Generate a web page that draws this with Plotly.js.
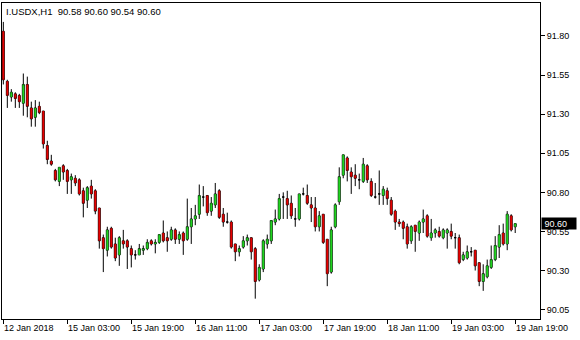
<!DOCTYPE html>
<html><head><meta charset="utf-8">
<script src="https://cdn.plot.ly/plotly-3.0.1.min.js"></script>
<style>html,body{margin:0;padding:0;background:#fff;}#chart{width:580px;height:340px;}</style>
</head><body><div id="chart"></div>
<script>
const symbol = "I.USDX,H1";
const openP = [91.83,91.51,91.41,91.43,91.42,91.37,91.49,91.34,91.28,91.35,
91.32,91.10,91.00,90.94,90.87,90.97,90.94,90.88,90.89,90.88,
90.81,90.75,90.84,90.81,90.70,90.51,90.43,90.57,90.47,90.40,
90.49,90.49,90.44,90.40,90.40,90.43,90.44,90.49,90.47,90.48,
90.54,90.51,90.50,90.56,90.50,90.54,90.50,90.58,90.63,90.66,
90.77,90.78,90.68,90.72,90.81,90.66,90.61,90.61,90.47,90.42,
90.45,90.49,90.51,90.44,90.24,90.31,90.47,90.49,90.61,90.63,
90.77,90.76,90.73,90.63,90.63,90.79,90.78,90.72,90.70,90.58,
90.66,90.50,90.29,90.58,90.74,90.91,91.02,90.93,90.91,90.88,
90.87,90.97,90.87,90.77,90.79,90.78,90.81,90.75,90.68,90.61,
90.61,90.58,90.49,90.59,90.54,90.61,90.65,90.51,90.54,90.55,
90.51,90.54,90.55,90.51,90.51,90.37,90.38,90.42,90.43,90.35,
90.23,90.26,90.32,90.37,90.45,90.54,90.47,90.65,90.58];
const highP = [91.89,91.52,91.46,91.44,91.43,91.56,91.54,91.38,91.39,91.38,
91.32,91.13,91.04,90.95,90.96,90.98,90.95,90.92,90.91,90.89,
90.83,90.84,90.88,90.82,90.70,90.53,90.58,90.58,90.51,90.52,
90.56,90.50,90.46,90.43,90.47,90.46,90.50,90.50,90.50,90.53,
90.62,90.55,90.58,90.57,90.55,90.55,90.76,90.70,90.72,90.85,
90.84,90.78,90.77,90.86,90.82,90.70,90.67,90.62,90.47,90.46,
90.52,90.53,90.51,90.45,90.34,90.50,90.53,90.62,90.69,90.79,
90.80,90.81,90.78,90.70,90.79,90.83,90.85,90.77,90.77,90.68,
90.66,90.50,90.58,90.73,90.96,91.04,91.03,90.96,90.98,90.92,
91.02,90.98,90.89,90.86,90.94,90.84,90.83,90.77,90.69,90.63,
90.62,90.60,90.59,90.59,90.62,90.69,90.66,90.63,90.57,90.58,
90.57,90.57,90.60,90.54,90.53,90.42,90.46,90.45,90.43,90.35,
90.34,90.37,90.46,90.52,90.59,90.60,90.68,90.66,90.60];
const lowP = [91.49,91.34,91.38,91.34,91.34,91.29,91.28,91.22,91.22,91.30,
91.08,90.98,90.97,90.87,90.84,90.88,90.79,90.79,90.84,90.78,
90.64,90.70,90.76,90.66,90.44,90.29,90.39,90.44,90.36,90.33,
90.44,90.31,90.32,90.37,90.40,90.40,90.43,90.46,90.41,90.47,
90.48,90.42,90.49,90.47,90.47,90.40,90.49,90.47,90.59,90.63,
90.71,90.65,90.65,90.70,90.63,90.58,90.60,90.44,90.36,90.39,
90.44,90.46,90.37,90.12,90.23,90.29,90.44,90.47,90.59,90.62,
90.63,90.63,90.63,90.58,90.62,90.78,90.72,90.61,90.55,90.55,
90.47,90.20,90.28,90.57,90.72,90.89,90.87,90.79,90.84,90.82,
90.86,90.86,90.77,90.76,90.72,90.72,90.72,90.65,90.56,90.58,
90.50,90.44,90.47,90.42,90.49,90.54,90.51,90.49,90.51,90.51,
90.50,90.44,90.50,90.44,90.34,90.36,90.37,90.39,90.30,90.20,
90.17,90.25,90.31,90.36,90.38,90.46,90.43,90.55,90.54];
const closeP = [91.52,91.42,91.44,91.40,91.38,91.49,91.35,91.27,91.34,91.31,
91.11,91.01,90.98,90.88,90.96,90.93,90.87,90.90,90.86,90.79,
90.73,90.83,90.79,90.68,90.49,90.44,90.56,90.45,90.38,90.51,
90.47,90.45,90.40,90.40,90.44,90.44,90.48,90.47,90.48,90.53,
90.49,90.49,90.56,90.50,90.53,90.49,90.58,90.63,90.65,90.78,
90.77,90.67,90.73,90.79,90.64,90.61,90.61,90.45,90.42,90.44,
90.49,90.51,90.42,90.23,90.32,90.49,90.50,90.62,90.63,90.76,
90.77,90.72,90.65,90.63,90.79,90.79,90.73,90.70,90.58,90.65,
90.48,90.28,90.56,90.72,90.90,91.04,90.94,90.90,90.89,90.88,
90.98,90.88,90.78,90.77,90.79,90.82,90.76,90.66,90.61,90.60,
90.57,90.47,90.58,90.55,90.61,90.63,90.52,90.54,90.56,90.52,
90.56,90.56,90.52,90.51,90.35,90.40,90.42,90.42,90.33,90.23,
90.28,90.33,90.37,90.46,90.53,90.47,90.66,90.56,90.60];
const xTickIdx = [0,16,32,48,64,80,96,112,128];
const xTickText = ["12 Jan 2018","15 Jan 03:00","15 Jan 19:00","16 Jan 11:00","17 Jan 03:00","17 Jan 19:00","18 Jan 11:00","19 Jan 03:00","19 Jan 19:00"];
const yTicks = [90.05,90.30,90.55,90.80,91.05,91.30,91.55,91.80];

const barIndex = openP.map((_, i) => i);
const last = openP.length - 1;
const FONT = "Liberation Sans, Arial, sans-serif";
const UP = "#22DD22", DOWN = "#EE0000";

const outline = {
  type: "candlestick",
  x: barIndex, open: openP, high: highP, low: lowP, close: closeP,
  increasing: {line: {color: "#000", width: 1}, fillcolor: UP},
  decreasing: {line: {color: "#000", width: 1}, fillcolor: DOWN},
  whiskerwidth: 0, hoverinfo: "none"
};
const body = {
  type: "candlestick",
  x: barIndex, open: openP, high: highP, low: lowP, close: closeP,
  increasing: {line: {color: UP, width: 0}, fillcolor: UP},
  decreasing: {line: {color: DOWN, width: 0}, fillcolor: DOWN},
  whiskerwidth: 0, hoverinfo: "none", opacity: 0.85
};

const annotations = xTickIdx.map((t, k) => ({
  x: t, xref: "x", y: 0, yref: "paper", xanchor: "left", yanchor: "top",
  yshift: -3, text: xTickText[k], showarrow: false, borderpad: 0,
  font: {family: FONT, size: 9, color: "#000"}
}));
annotations.push({
  x: 0, xref: "paper", y: 1, yref: "paper", xanchor: "left", yanchor: "top",
  xshift: 3, yshift: -2, showarrow: false, borderpad: 0,
  text: symbol + "\u00a0\u00a0" + [openP[last], highP[last], lowP[last], closeP[last]].map(v => v.toFixed(2)).join(" "),
  font: {family: FONT, size: 9.5, color: "#000"}
});
annotations.push({
  x: 1, xref: "paper", y: closeP[last], yref: "y", xanchor: "left", yanchor: "middle",
  xshift: 1, showarrow: false, borderpad: 0, width: 34, height: 11, align: "left",
  bgcolor: "#000", text: "\u00a0" + closeP[last].toFixed(2),
  font: {family: FONT, size: 9, color: "#fff"}
});

const layout = {
  width: 580, height: 340,
  margin: {l: 2, r: 40, t: 3, b: 21, pad: 0},
  paper_bgcolor: "#fff", plot_bgcolor: "#fff",
  showlegend: false, boxmode: "overlay",
  xaxis: {
    type: "linear", range: [-0.33, 134.2], rangeslider: {visible: false},
    showgrid: false, zeroline: false, showline: true, mirror: true,
    linecolor: "#000", linewidth: 1, ticks: "outside", ticklen: 4, tickcolor: "#000",
    tickvals: xTickIdx, showticklabels: false, fixedrange: true
  },
  yaxis: {
    side: "right", range: [89.990, 92.011],
    showgrid: false, zeroline: false, showline: true, mirror: true,
    linecolor: "#000", linewidth: 1, ticks: "outside", ticklen: 4, tickcolor: "#000",
    tickvals: yTicks, ticktext: yTicks.map(v => v.toFixed(2)),
    tickfont: {family: FONT, size: 9, color: "#000"}, fixedrange: true
  },
  annotations: annotations
};

Plotly.newPlot("chart", [outline, body], layout, {displayModeBar: false, staticPlot: true});
</script></body></html>
